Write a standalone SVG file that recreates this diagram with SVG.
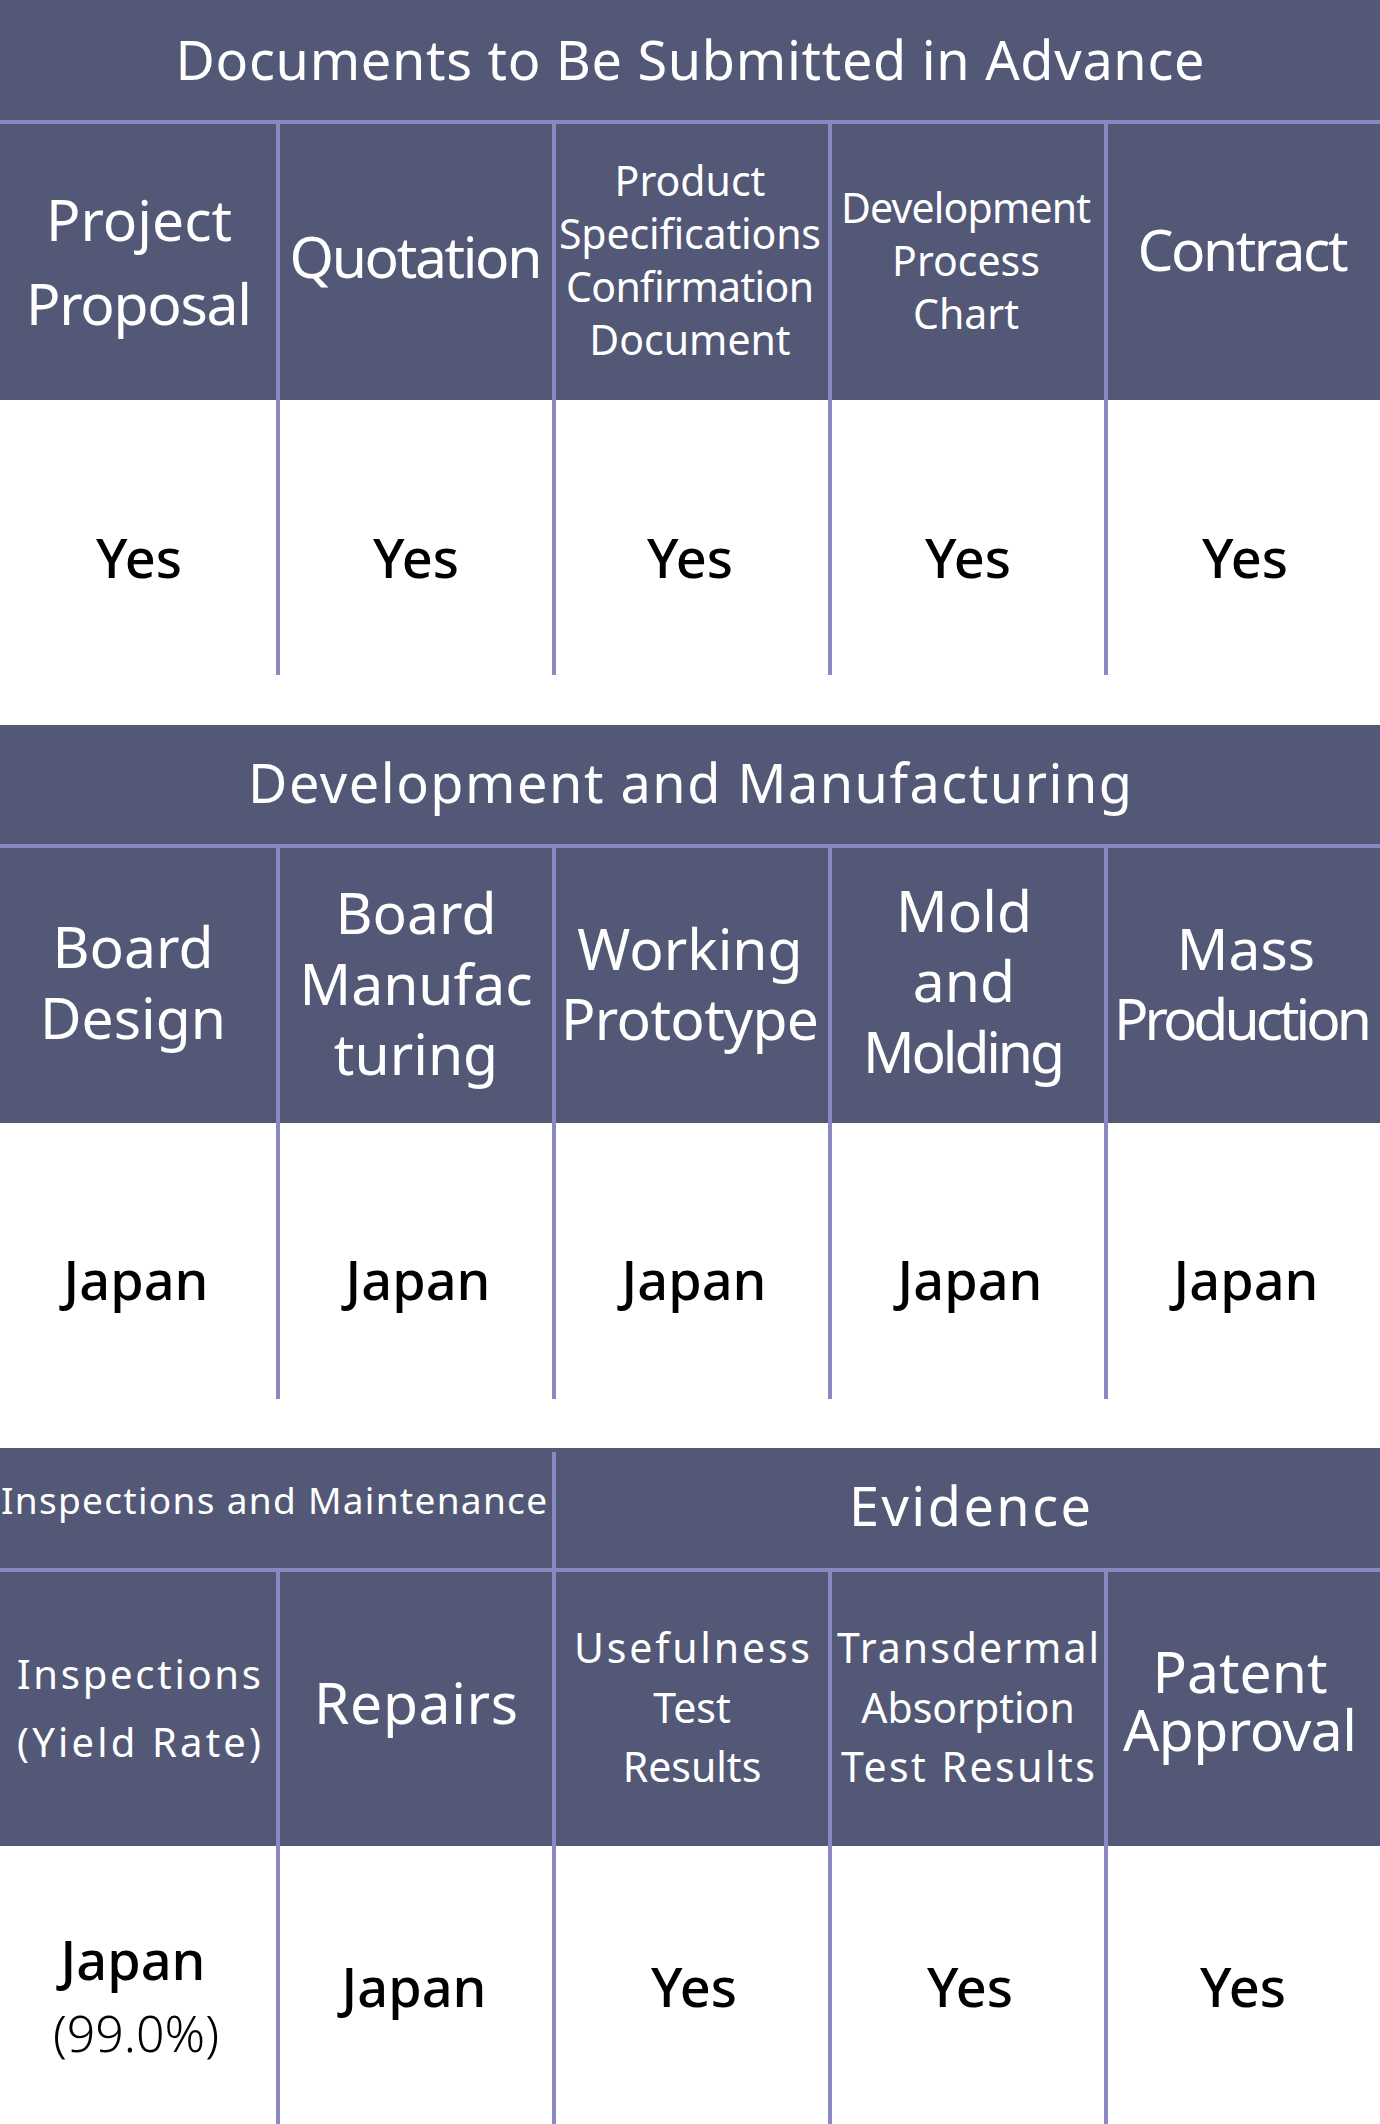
<svg xmlns="http://www.w3.org/2000/svg" width="1380" height="2124" viewBox="0 0 1380 2124">
<style>
.bg{fill:#535877}
.ln{stroke:#8b89c4;stroke-width:4;fill:none}
text{font-family:"Noto Sans","Noto Sans CJK JP",sans-serif;text-anchor:middle}
.w{fill:#fff}
.b{fill:#000;font-size:54px;font-weight:500}
.t{font-size:54px}
.h{font-size:57px}
.s{font-size:41px}
</style>
<rect width="1380" height="2124" fill="#fff"/>
<g id="sec1">
<rect class="bg" x="0" y="0" width="1380" height="400"/>
<text class="w t" x="690" y="80" textLength="1029">Documents to Be Submitted in Advance</text>
<text class="w h" x="139" y="241">Project</text><text class="w h" x="139" y="325" textLength="226">Proposal</text>
<text class="w h" x="416" y="278" textLength="253">Quotation</text>
<text class="w s" x="690" y="196">Product</text><text class="w s" x="690" y="249" textLength="262">Specifications</text><text class="w s" x="690" y="302" textLength="248">Confirmation</text><text class="w s" x="690" y="355">Document</text>
<text class="w s" x="966" y="223" textLength="250">Development</text><text class="w s" x="966" y="276">Process</text><text class="w s" x="966" y="329">Chart</text>
<text class="w h" x="1243" y="271" textLength="211">Contract</text>
<text class="b" x="139" y="578">Yes</text><text class="b" x="416" y="578">Yes</text><text class="b" x="690" y="578">Yes</text><text class="b" x="968" y="578">Yes</text><text class="b" x="1245" y="578">Yes</text>
</g>
<g id="sec2">
<rect class="bg" x="0" y="725" width="1380" height="398"/>
<text class="w t" x="690" y="803" textLength="884">Development and Manufacturing</text>
<text class="w h" x="133" y="968">Board</text><text class="w h" x="133" y="1039">Design</text>
<text class="w h" x="416" y="934">Board</text><text class="w h" x="416" y="1005">Manufac</text><text class="w h" x="416" y="1075">turing</text>
<text class="w h" x="690" y="970">Working</text><text class="w h" x="690" y="1040" textLength="258">Prototype</text>
<text class="w h" x="964" y="932">Mold</text><text class="w h" x="964" y="1002">and</text><text class="w h" x="964" y="1073" textLength="202">Molding</text>
<text class="w h" x="1246" y="970">Mass</text><text class="w h" x="1243" y="1040" textLength="258">Production</text>
<text class="b" x="136" y="1300">Japan</text><text class="b" x="418" y="1300">Japan</text><text class="b" x="694" y="1300">Japan</text><text class="b" x="970" y="1300">Japan</text><text class="b" x="1246" y="1300">Japan</text>
</g>
<g id="sec3">
<rect class="bg" x="0" y="1448" width="1380" height="398"/>
<text class="w" style="font-size:37px" x="274" y="1514" textLength="546">Inspections and Maintenance</text>
<text class="w t" x="970" y="1526" textLength="242">Evidence</text>
<text class="w" style="font-size:40px" x="139" y="1689" textLength="244">Inspections</text><text class="w" style="font-size:40px" x="139" y="1757" textLength="244">(Yield Rate)</text>
<text class="w h" x="416" y="1724" textLength="204">Repairs</text>
<text class="w s" x="692" y="1663" textLength="236">Usefulness</text><text class="w s" x="692" y="1723">Test</text><text class="w s" x="692" y="1782">Results</text>
<text class="w s" x="968" y="1663" textLength="262">Transdermal</text><text class="w s" x="968" y="1723">Absorption</text><text class="w s" x="968" y="1782" textLength="254">Test Results</text>
<text class="w h" x="1240" y="1693">Patent</text><text class="w h" x="1240" y="1751" textLength="234">Approval</text>
<text class="b" x="133" y="1980">Japan</text><text x="136" y="2052" style="font-size:50px;font-weight:300;fill:#000">(99.0%)</text>
<text class="b" x="414" y="2007">Japan</text><text class="b" x="694" y="2007">Yes</text><text class="b" x="970" y="2007">Yes</text><text class="b" x="1243" y="2007">Yes</text>
</g>
<g id="connectors" class="ln">
<line x1="0" y1="122" x2="1380" y2="122"/>
<line x1="278" y1="124" x2="278" y2="675"/><line x1="554" y1="124" x2="554" y2="675"/><line x1="830" y1="124" x2="830" y2="675"/><line x1="1106" y1="124" x2="1106" y2="675"/>
<line x1="0" y1="846" x2="1380" y2="846"/>
<line x1="278" y1="848" x2="278" y2="1399"/><line x1="554" y1="848" x2="554" y2="1399"/><line x1="830" y1="848" x2="830" y2="1399"/><line x1="1106" y1="848" x2="1106" y2="1399"/>
<line x1="0" y1="1570" x2="1380" y2="1570"/>
<line x1="554" y1="1452" x2="554" y2="2124"/>
<line x1="278" y1="1572" x2="278" y2="2124"/><line x1="830" y1="1572" x2="830" y2="2124"/><line x1="1106" y1="1572" x2="1106" y2="2124"/>
</g>
</svg>
